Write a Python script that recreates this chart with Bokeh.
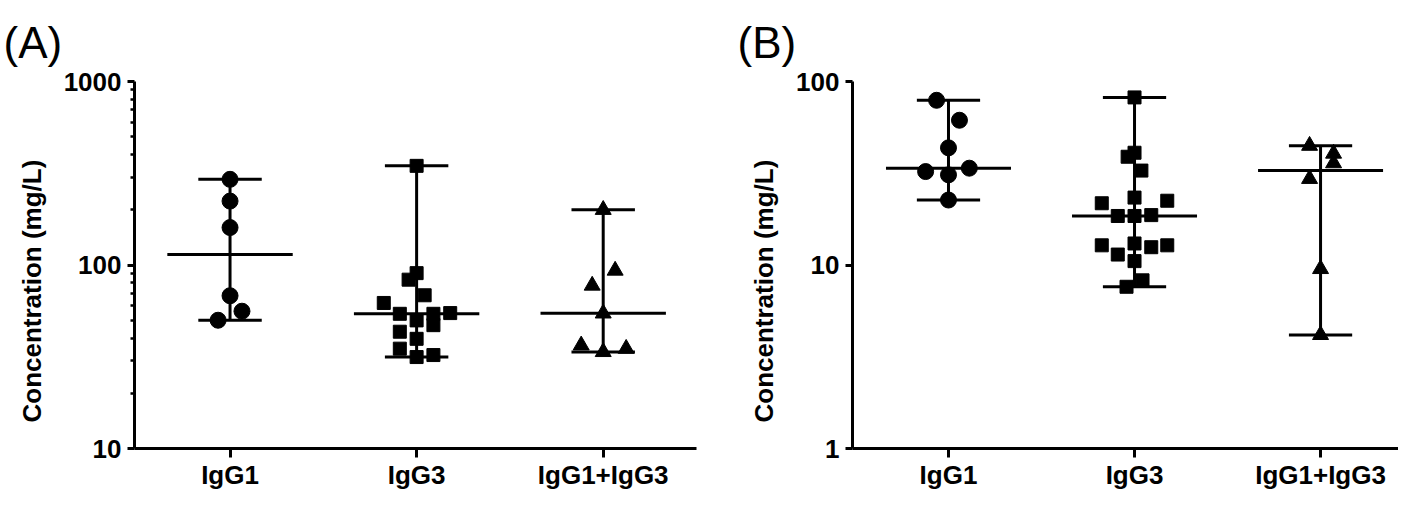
import numpy as np
from bokeh.plotting import figure
from bokeh.layouts import row
from bokeh.models import FixedTicker, Range1d, Title, PrintfTickFormatter
from bokeh.embed import file_html
from bokeh.resources import INLINE

categories = ["IgG1", "IgG3", "IgG1+IgG3"]

# ---- Panel A: concentrations (mg/L) ----
a_igg1 = [293, 223, 160, 68, 56, 50]
a_igg3 = [347, 90.3, 83.2, 68.4, 62.1, 54.2, 49.9, 54.2, 47.0, 54.7, 43.3, 39.6, 35.0, 31.5, 32.3]
a_mix = [200, 93.3, 77.3, 54.5, 36.5, 33.6, 35.0]

# ---- Panel B: concentrations (mg/L) ----
b_igg1 = [79, 61.5, 43.5, 32.3, 31.0, 33.7, 22.6]
b_igg3 = [81.9, 40.9, 38.9, 32.7, 23.3, 21.7, 22.4, 18.5, 18.5, 18.7,
          12.8, 13.1, 12.5, 12.8, 11.4, 10.5, 8.25, 7.61]
b_mix = [44.7, 40.5, 35.9, 29.5, 9.52, 4.16]

# scatter-dot spread of each point, as a fraction of one category width
a_igg1_dx = [0, 0, 0, 0, 0.064, -0.064]
a_igg3_dx = [0, 0, -0.043, 0.043, -0.176, -0.09, 0, 0.09, 0.09, 0.18, -0.09, 0, -0.09, 0, 0.09]
a_mix_dx = [0, 0.064, -0.059, 0, -0.118, 0, 0.123]
b_igg1_dx = [-0.064, 0.059, 0, -0.123, 0, 0.112, 0]
b_igg3_dx = [0, 0, -0.037, 0.037, 0, -0.176, 0.176, -0.09, 0, 0.09,
             -0.176, 0, 0.09, 0.176, -0.09, 0, 0.043, -0.043]
b_mix_dx = [-0.059, 0.07, 0.07, -0.059, 0, 0]

markers = ["circle", "square", "triangle"]
marker_sizes = [16, 13, 16]

FONT = "Liberation Sans"
H = 492
TOP = 80
BOTTOM = 42


def make_panel(letter, letter_dx, series, offsets, y_lo, y_hi, major, minor, width,
               left_border, right_border, x_start, x_end, ytitle_standoff):
    p = figure(width=width, height=H, x_range=Range1d(x_start, x_end),
               y_range=Range1d(y_lo, y_hi), y_axis_type="log",
               output_backend="svg", toolbar_location=None,
               min_border_left=left_border, min_border_right=right_border,
               min_border_top=TOP, min_border_bottom=BOTTOM)
    p.outline_line_color = None
    p.xgrid.visible = False
    p.ygrid.visible = False
    p.background_fill_color = "white"
    p.border_fill_color = "white"

    # panel letter
    p.title.text = letter
    p.title.text_font = FONT
    p.title.text_font_size = "44px"
    p.title.text_font_style = "normal"
    p.title.text_color = "black"
    p.title.align = "left"
    p.title.offset = letter_dx
    p.title.standoff = 30

    # y axis
    ya = p.yaxis[0]
    ya.ticker = FixedTicker(ticks=major, minor_ticks=minor)
    ya.formatter = PrintfTickFormatter(format="%d")
    ya.axis_line_width = 3
    ya.axis_line_color = "black"
    ya.major_tick_line_width = 3
    ya.major_tick_out = 7
    ya.major_tick_in = 0
    ya.minor_tick_line_width = 2.5
    ya.minor_tick_out = 4
    ya.minor_tick_in = 0
    ya.major_label_text_font = FONT
    ya.major_label_text_font_style = "bold"
    ya.major_label_text_font_size = "26px"
    ya.major_label_text_color = "black"
    ya.major_label_standoff = 6

    ytitle = Title(text="Concentration (mg/L)", text_font=FONT,
                   text_font_size="26px", text_font_style="bold",
                   text_color="black", align="left", offset=26,
                   standoff=ytitle_standoff)
    p.add_layout(ytitle, "left")

    # x axis
    xa = p.xaxis[0]
    xa.ticker = FixedTicker(ticks=[1, 2, 3])
    xa.major_label_overrides = {1: categories[0], 2: categories[1], 3: categories[2]}
    xa.axis_line_width = 3
    xa.axis_line_color = "black"
    xa.major_tick_line_width = 3
    xa.major_tick_out = 9
    xa.major_tick_in = 0
    xa.minor_tick_out = 0
    xa.minor_tick_in = 0
    xa.major_label_text_font = FONT
    xa.major_label_text_font_style = "bold"
    xa.major_label_text_font_size = "26px"
    xa.major_label_text_color = "black"
    xa.major_label_standoff = 2

    for i, (vals, dx) in enumerate(zip(series, offsets)):
        cx = i + 1
        v = np.array(vals, dtype=float)
        lo, hi, med = v.min(), v.max(), float(np.median(v))
        p.segment(x0=[cx], y0=[lo], x1=[cx], y1=[hi], line_width=3, line_color="black")
        p.segment(x0=[cx - 0.17, cx - 0.17], y0=[lo, hi], x1=[cx + 0.17, cx + 0.17],
                  y1=[lo, hi], line_width=3, line_color="black")
        p.segment(x0=[cx - 0.336], y0=[med], x1=[cx + 0.336], y1=[med],
                  line_width=3, line_color="black")
        p.scatter(x=cx + np.array(dx), y=v, marker=markers[i], size=marker_sizes[i],
                  fill_color="black", line_color="black")
    return p


minor_a = [m * 10 ** k for k in (1, 2) for m in range(2, 10)]
pA = make_panel("(A)", -131, [a_igg1, a_igg3, a_mix], [a_igg1_dx, a_igg3_dx, a_mix_dx],
                10, 1000, [10, 100, 1000], minor_a, 700, 131, 4, 0.488, 3.5, 28)
pB = make_panel("(B)", -115, [b_igg1, b_igg3, b_mix], [b_igg1_dx, b_igg3_dx, b_mix_dx],
                1, 100, [1, 10, 100], [], 698, 152, 0, 0.484, 3.419, 30)

layout = row(pA, pB)
open("out.html", "w").write(file_html(layout, INLINE))
